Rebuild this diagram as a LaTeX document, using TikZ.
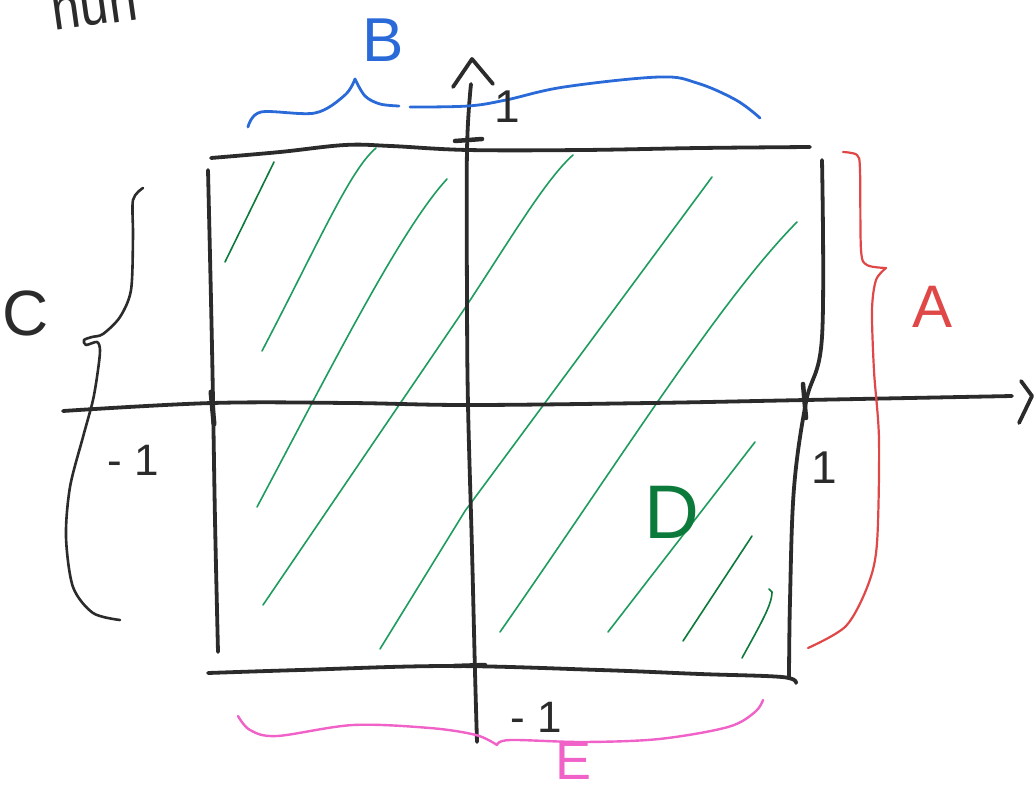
\documentclass[tikz,border=0pt]{standalone}
\usepackage{fontspec}
\setmainfont{Liberation Sans}
\definecolor{inkc}{HTML}{2B2B2B}
\definecolor{bluec}{HTML}{2A6AD8}
\definecolor{redc}{HTML}{E04848}
\definecolor{pinkc}{HTML}{F062C8}
\definecolor{hatchc}{HTML}{1E9C5E}
\definecolor{darkgreenc}{HTML}{0B7A3A}
\tikzset{
  inkline/.style={draw=inkc, line width=3.8pt, line cap=round, line join=round},
  hatchline/.style={draw=hatchc, line width=1.6pt, line cap=round},
  bracestroke/.style={line width=2.8pt, line cap=round, line join=round},
  lbl/.style={inner sep=0pt, anchor=center}
}
\begin{document}
\begin{tikzpicture}[x=1pt,y=-1pt]
\fill[white] (0,0) rectangle (1035,787);
\useasboundingbox (0,0) rectangle (1035,787);

% hatching
\draw[hatchline, draw=darkgreenc] (225,262) -- (274,162);
\draw[hatchline] (262,351) .. controls (320,240) and (350,170) .. (376,148);
\draw[hatchline] (257,507) .. controls (330,370) and (400,230) .. (447,179);
\draw[hatchline] (263,605) -- (463,311) .. controls (510,240) and (545,180) .. (573,155);
\draw[hatchline] (380,649) -- (465,511) -- (712,177);
\draw[hatchline] (500,632) .. controls (620,460) and (720,300) .. (797,222);
\draw[hatchline] (608,632) -- (755,442);
\draw[hatchline, draw=darkgreenc] (683,641) -- (752,536);
\draw[hatchline, draw=darkgreenc] (742,658) .. controls (760,625) and (772,605) .. (772,592) -- (769,589);

% rectangle edges
\draw[inkline] plot[smooth, tension=0.6] coordinates {(211,158) (280,152) (345,145) (391,146) (468,150) (583,150) (700,148) (810,147)};
\draw[inkline] plot[smooth, tension=0.6] coordinates {(208,170) (211,300) (213,400) (215,520) (218,652)};
\draw[inkline] plot[smooth, tension=0.6] coordinates {(208,673) (300,670) (449,666) (600,670) (700,674) (782,677) (796,683)};
\draw[inkline] plot[smooth, tension=0.6] coordinates {(822,160) (822,337) (806,402) (794,488) (790,600) (789,678)};

% axes
\draw[inkline] plot[smooth, tension=0.6] coordinates {(63,411) (212,403) (350,403) (468,405) (650,403) (806,400) (1012,396)};
\draw[inkline] (1021,381) -- (1032,396) -- (1019,423);
\draw[inkline] plot[smooth, tension=0.6] coordinates {(471,84) (467,150) (467,300) (468,405) (472,550) (475,672) (477,742)};
\draw[inkline] (453,87) -- (472,59) -- (493,84);

% ticks
\draw[inkline, line width=4.5pt] (455,141) -- (482,139);
\draw[inkline, line width=4.5pt] (454,666) -- (485,665);
\draw[inkline, line width=5pt] (211,392) -- (214,424);
\draw[inkline, line width=4.5pt] (803,384) -- (806,418);

% braces
\draw[bracestroke, bluec] plot[smooth, tension=0.55] coordinates {(248,127) (261,112) (315,113) (345,95) (355,79)};
\draw[bracestroke, bluec] plot[smooth, tension=0.55] coordinates {(355,79) (365,96) (380,104) (399,106)};
\draw[bracestroke, bluec] plot[smooth, tension=0.6] coordinates {(410,107) (468,106) (506,100) (564,87) (659,77) (697,83) (736,100) (760,118)};

\draw[bracestroke, redc, line width=2.2pt] plot[smooth, tension=0.5] coordinates {(843,152) (857,155) (860,170) (861,250) (867,265) (886,268)};
\draw[bracestroke, redc, line width=2.2pt] plot[smooth, tension=0.5] coordinates {(886,268) (876,280) (872,310) (874,371) (879,440) (877,543) (868,585) (846,626) (808,648)};

\draw[bracestroke, inkc, line width=2.6pt] plot[smooth, tension=0.5] coordinates {(143,188) (133,200) (133,237) (131,290) (120,317) (103,334) (92,337) (84,340) (86,345) (97,342) (100,350) (98,370) (93,400) (83,437) (70,487) (66,537) (73,587) (93,613) (120,620)};

\draw[bracestroke, pinkc, line width=2.4pt] plot[smooth, tension=0.55] coordinates {(238,716) (250,730) (277,736) (353,725) (430,728) (476,735) (497,745)};
\draw[bracestroke, pinkc, line width=2.4pt] plot[smooth, tension=0.55] coordinates {(497,745) (510,740) (583,742) (659,739) (728,727) (755,712) (763,700)};

% labels
\node[lbl, text=bluec, font=\fontsize{62}{62}\selectfont] (labB) at (383,40) {B};
\node[lbl, text=redc, font=\fontsize{60}{60}\selectfont] (labA) at (932,307) {A};
\node[lbl, text=inkc, font=\fontsize{64}{64}\selectfont] (labC) at (26,313) {C};
\node[lbl, text=darkgreenc, font=\fontsize{76}{76}\selectfont] (labD) at (672,512) {D};
\node[lbl, text=pinkc, font=\fontsize{54}{54}\selectfont] (labE) at (573,761) {E};
\node[lbl, text=inkc, font=\fontsize{46}{46}\selectfont] (oneTop) at (507,107) {1};
\node[lbl, text=inkc, font=\fontsize{46}{46}\selectfont] (oneRight) at (824,468) {1};
\node[lbl, text=inkc, font=\fontsize{44}{44}\selectfont] (mLeft) at (133,460) {- 1};
\node[lbl, text=inkc, font=\fontsize{44}{44}\selectfont] (mBottom) at (536,717) {- 1};
\node[inner sep=0pt, anchor=base, text=inkc, rotate=8, xscale=0.85, font=\fontsize{60}{60}\selectfont] (nun) at (97,25) {nun};
\end{tikzpicture}
\end{document}
